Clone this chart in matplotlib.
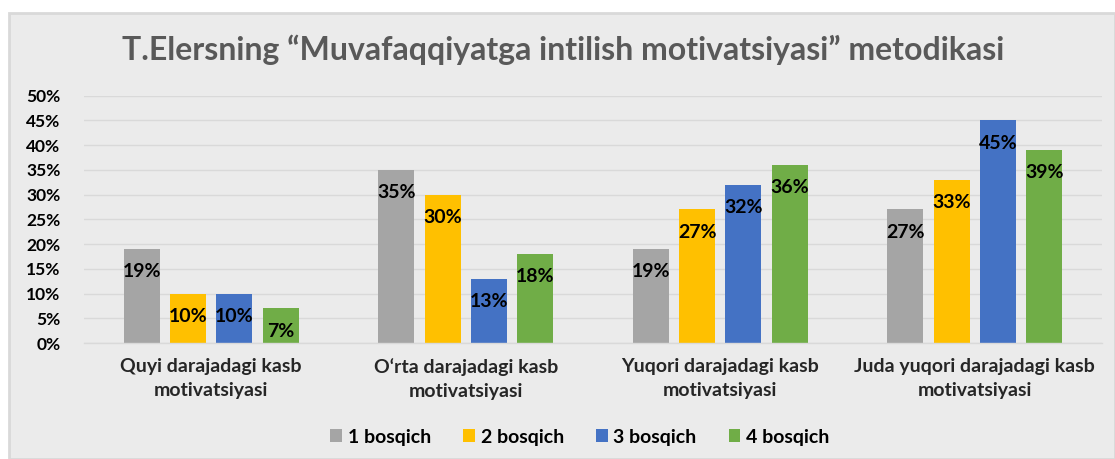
import numpy as np
import matplotlib.pyplot as plt
from matplotlib.patches import Rectangle, Patch
from matplotlib.ticker import FuncFormatter

plt.rcParams['font.family'] = ['Lato', 'DejaVu Sans']

TITLE = "T.Elersning \u201cMuvafaqqiyatga intilish motivatsiyasi\u201d metodikasi"

categories = ["Quyi darajadagi kasb\nmotivatsiyasi",
              "O\u2018rta darajadagi kasb\nmotivatsiyasi",
              "Yuqori darajadagi kasb\nmotivatsiyasi",
              "Juda yuqori darajadagi kasb\nmotivatsiyasi"]
series_names = ["1 bosqich", "2 bosqich", "3 bosqich", "4 bosqich"]
bosqich1 = [19, 35, 19, 27]
bosqich2 = [10, 30, 27, 33]
bosqich3 = [10, 13, 32, 45]
bosqich4 = [7, 18, 36, 39]
series = [bosqich1, bosqich2, bosqich3, bosqich4]
colors = ["#A5A5A5", "#FFC000", "#4472C4", "#70AD47"]

W, H = 1115, 459
fig = plt.figure(figsize=(W / 100, H / 100), dpi=100)
fig.patch.set_facecolor("white")

# chart area background with thin border
fig.patches.append(Rectangle((9 / W, 0), (W - 9) / W, (H - 13) / H,
                             transform=fig.transFigure, facecolor="#EBEBEB",
                             edgecolor="#D9D9D9", lw=2, zorder=-10))

ax = fig.add_axes([84 / W, 1 - 343 / H, (1102 - 84) / W, (343 - 95.5) / H])
ax.set_facecolor("none")

x = np.arange(len(categories))
pitch = 0.182
width = 0.1415
for i, (vals, c, name) in enumerate(zip(series, colors, series_names)):
    pos = x + (i - 1.5) * pitch
    ax.bar(pos, vals, width=width, color=c, label=name, zorder=2)
    for px, v in zip(pos, vals):
        ax.annotate(f"{v}%", (px, v), xytext=(0, -16.5), textcoords="offset points",
                    ha="center", va="center", fontsize=14, fontweight="bold",
                    color="black", zorder=3)

ax.set_xlim(-0.5, 3.5)
ax.set_ylim(0, 50)
ax.set_yticks(np.arange(0, 51, 5))
ax.yaxis.set_major_formatter(FuncFormatter(lambda v, p: f"{v:.0f}%"))
ax.grid(axis="y", color="#D9D9D9", lw=1, zorder=1)
ax.set_axisbelow(True)
for s in ["top", "right", "left"]:
    ax.spines[s].set_visible(False)
ax.spines["bottom"].set_color("#D9D9D9")
ax.spines["bottom"].set_linewidth(1)
ax.tick_params(axis="both", length=0)
ax.tick_params(axis="y", pad=17, labelsize=12.5)
ax.tick_params(axis="x", pad=11, labelsize=14)
ax.set_xticks(x)
ax.set_xticklabels(categories, fontweight="bold", color="#262626", linespacing=1.45)
for t in ax.get_yticklabels():
    t.set_fontweight("bold")

fig.text(563 / W, 1 - 50 / H, TITLE, ha="center", va="center", fontsize=23,
         fontweight="bold", color="#595959")

handles = [Patch(facecolor=c, label=n) for c, n in zip(colors, series_names)]
fig.legend(handles=handles, loc="center", bbox_to_anchor=(580 / W, 1 - 437 / H),
           ncol=4, frameon=False, handlelength=0.6, handleheight=0.6,
           handletextpad=0.3, columnspacing=1.65,
           prop={"weight": "bold", "size": 14})

fig.savefig("out.png", dpi=100)
